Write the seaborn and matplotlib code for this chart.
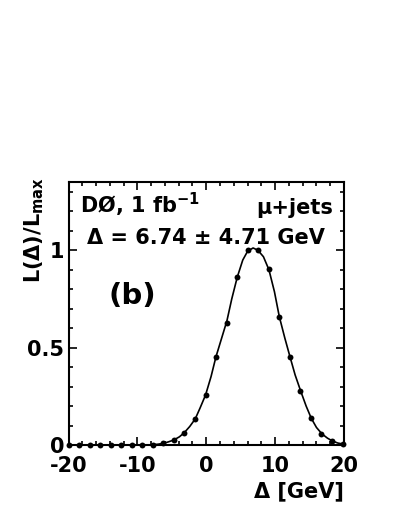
import numpy as np
import pandas as pd
import seaborn as sns
import matplotlib.pyplot as plt
from matplotlib.ticker import MultipleLocator

#----------------------------------------
# likelihood scan points
delta_pts = [-20.0, -18.47, -16.94, -15.41, -13.88, -12.35, -10.82, -9.29, -7.76,
             -6.23, -4.70, -3.17, -1.64, -0.11, 1.42, 2.95, 4.48, 6.01, 7.54,
             9.07, 10.60, 12.13, 13.66, 15.19, 16.72, 18.25, 19.78]
like_pts = [0.0, 0.0, 0.0, 0.0, 0.0, 0.0, 0.0, 0.0, 0.002,
            0.009, 0.026, 0.063, 0.134, 0.257, 0.454, 0.625, 0.862, 1.0, 1.0,
            0.904, 0.657, 0.454, 0.278, 0.137, 0.057, 0.021, 0.004]

# smooth fitted curve
delta_fit = [-20, -10, -8, -7, -6.2, -5.5, -4.7, -3.9, -3.2, -2.4, -1.6, -0.9, -0.1,
             0.7, 1.4, 2.2, 3.0, 3.7, 4.5, 5.3, 6.0, 6.8, 7.5, 8.3, 9.1, 9.9, 10.6,
             11.4, 12.15, 12.9, 13.7, 14.5, 15.25, 16.0, 16.8, 17.6, 18.3, 19.1, 20]
like_fit = [0, 0, 0.001, 0.004, 0.009, 0.016, 0.026, 0.042, 0.063, 0.095, 0.134, 0.19, 0.257,
            0.352, 0.452, 0.545, 0.638, 0.75, 0.862, 0.95, 0.995, 1.012, 1.0, 0.967, 0.9, 0.787, 0.66,
            0.55, 0.454, 0.36, 0.278, 0.2, 0.137, 0.09, 0.057, 0.035, 0.021, 0.01, 0.004]

x_ticks = [-20, -10, 0, 10, 20]
y_ticks = [0, 0.5, 1]
y_ticklabels = ['0', '0.5', '1']
#----------------------------------------

sns.set_style('ticks')
plt.rcParams['font.family'] = ['DejaVu Sans']
plt.rcParams['font.weight'] = 'bold'
plt.rcParams['mathtext.fontset'] = 'dejavusans'
plt.rcParams['text.color'] = 'black'
plt.rcParams['axes.labelcolor'] = 'black'

df_pts = pd.DataFrame({'delta': delta_pts, 'L': like_pts})
df_fit = pd.DataFrame({'delta': delta_fit, 'L': like_fit})

fig = plt.figure(figsize=(3.99, 5.16), dpi=100)
ax = fig.add_axes([0.1717, 0.1376, 0.6905, 0.5094])

sns.lineplot(data=df_fit, x='delta', y='L', ax=ax, color='black', lw=1.2)
sns.scatterplot(data=df_pts, x='delta', y='L', ax=ax, color='black', s=18,
                edgecolor='black', linewidth=0, zorder=5, clip_on=False)

ax.set_xlim(-20, 20)
ax.set_ylim(0, 1.35)
ax.set_xticks(x_ticks)
ax.set_xticklabels([str(t) for t in x_ticks])
ax.set_yticks(y_ticks)
ax.set_yticklabels(y_ticklabels)
ax.xaxis.set_minor_locator(MultipleLocator(2))
ax.yaxis.set_minor_locator(MultipleLocator(0.1))
ax.tick_params(which='both', direction='in', top=True, right=True, width=1.2,
               labelsize=15, colors='black', labelcolor='black')
ax.tick_params(which='major', length=6)
ax.tick_params(which='minor', length=3)
ax.tick_params(axis='x', which='major', pad=8)
ax.tick_params(axis='y', which='major', pad=3)
for s in ax.spines.values():
    s.set_linewidth(1.5)
    s.set_color('black')
    s.set_visible(True)

ax.set_xlabel('Δ [GeV]', fontsize=15, fontweight='bold', loc='right')
ax.set_ylabel(r'L(Δ)/L$_{\mathbf{max}}$', fontsize=15, fontweight='bold', loc='top')
ax.yaxis.set_label_coords(-0.08, 1.02)
ax.xaxis.set_label_coords(1.0, -0.14)

ax.text(0.04, 0.88, r'DØ, 1 fb$^{\mathbf{-1}}$', transform=ax.transAxes,
        fontsize=15, fontweight='bold', va='baseline')
ax.text(0.96, 0.88, 'μ+jets', transform=ax.transAxes, ha='right',
        fontsize=15, fontweight='bold', va='baseline')
ax.text(0.5, 0.765, 'Δ = 6.74 ± 4.71 GeV', transform=ax.transAxes, ha='center',
        fontsize=15, fontweight='bold', va='baseline')
ax.text(0.23, 0.565, '(b)', transform=ax.transAxes, ha='center',
        fontsize=21, fontweight='bold', va='center')

fig.savefig('out.png', dpi=100)
